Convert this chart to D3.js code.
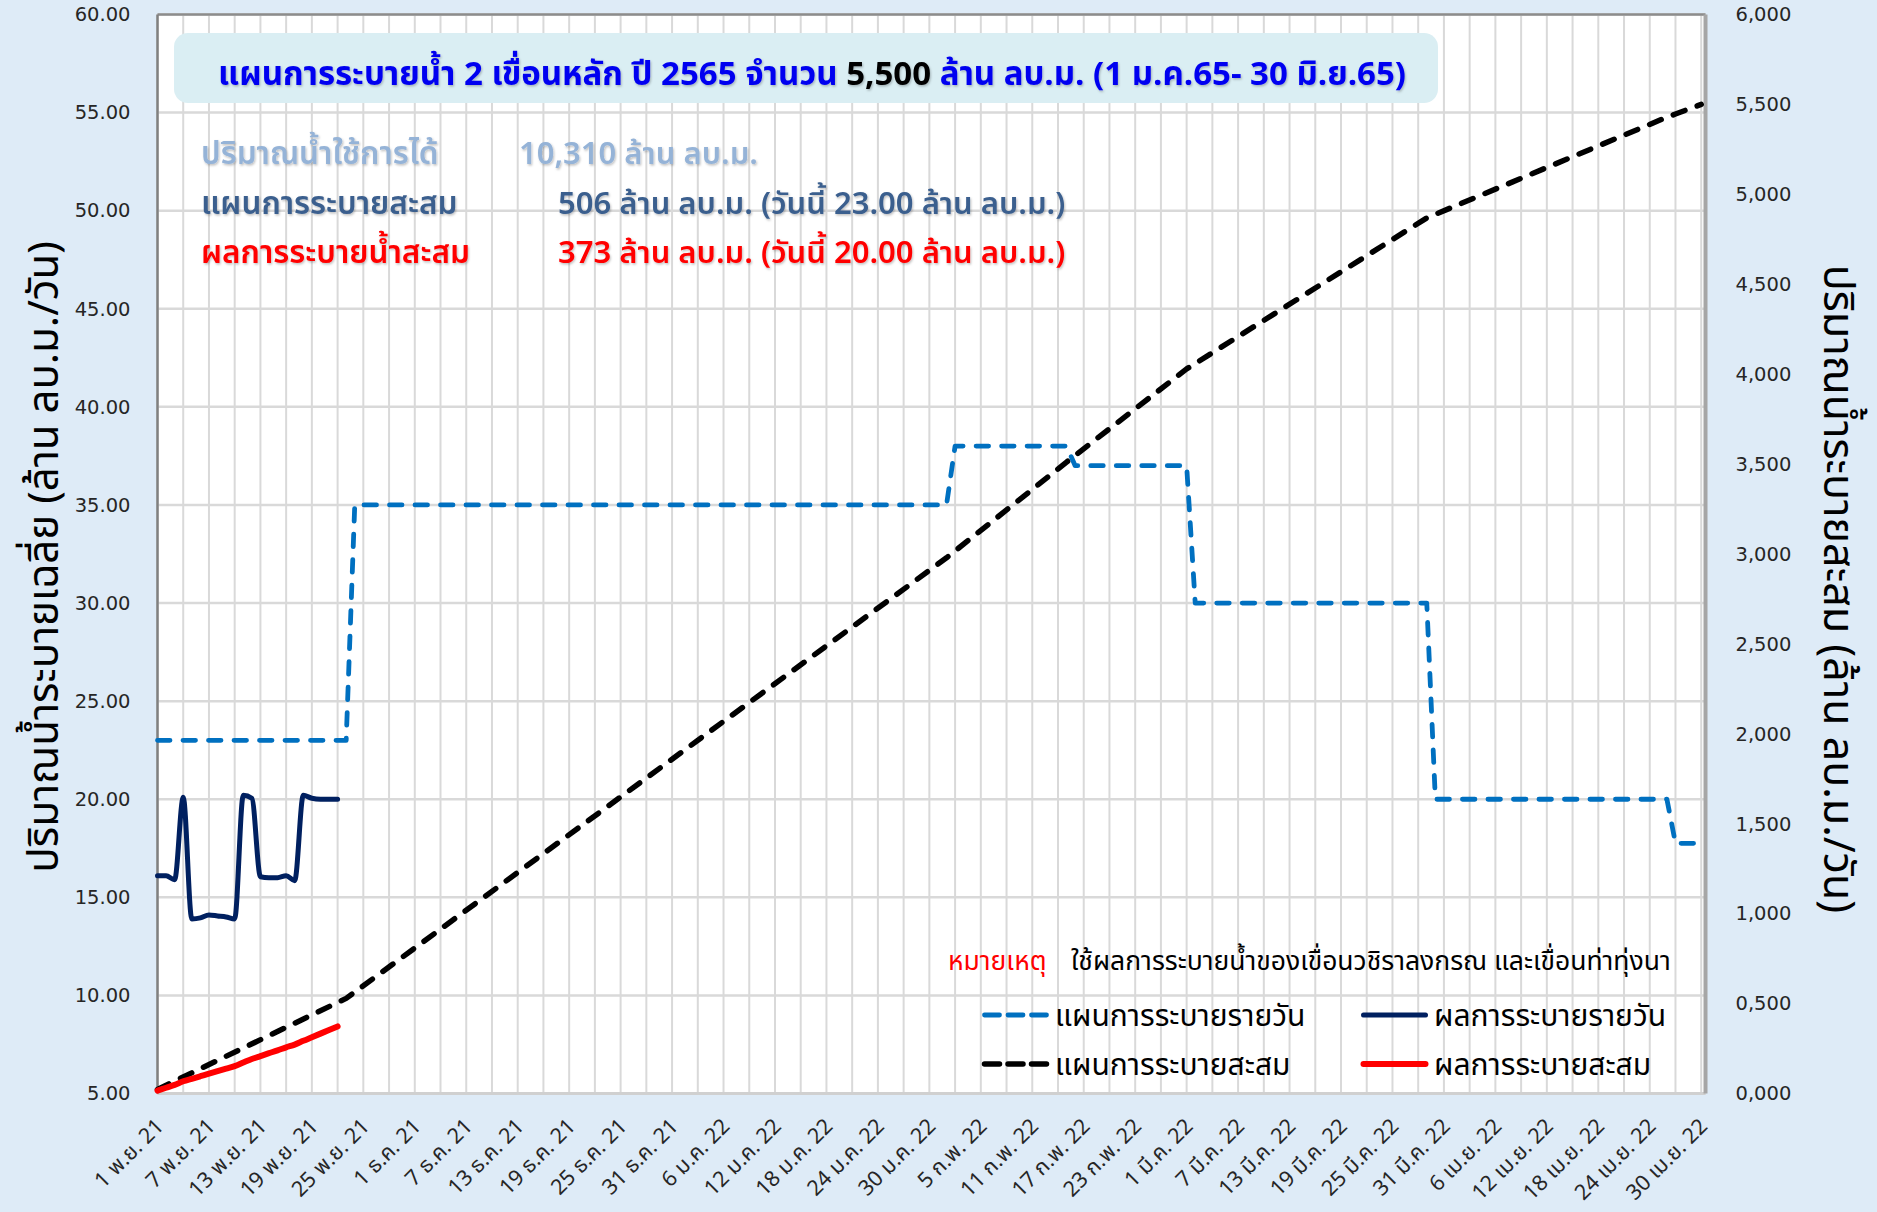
<!DOCTYPE html>
<html>
<head>
<meta charset="utf-8">
<script src="https://cdn.jsdelivr.net/npm/d3@7"></script>
<style>
  html, body { margin: 0; padding: 0; background: #deebf7; }
  svg { display: block; }
  text { font-family: "Tahoma", "Leelawadee UI", "Noto Sans Thai", "Noto Sans Thai UI", "Noto Sans", "DejaVu Sans", sans-serif; }
</style>
</head>
<body>
<svg id="chart" width="1877" height="1212"></svg>
<script>
// ---- data ----
const xTickLabels = [
  "1 พ.ย. 21", "7 พ.ย. 21", "13 พ.ย. 21", "19 พ.ย. 21", "25 พ.ย. 21",
  "1 ธ.ค. 21", "7 ธ.ค. 21", "13 ธ.ค. 21", "19 ธ.ค. 21", "25 ธ.ค. 21", "31 ธ.ค. 21",
  "6 ม.ค. 22", "12 ม.ค. 22", "18 ม.ค. 22", "24 ม.ค. 22", "30 ม.ค. 22",
  "5 ก.พ. 22", "11 ก.พ. 22", "17 ก.พ. 22", "23 ก.พ. 22",
  "1 มี.ค. 22", "7 มี.ค. 22", "13 มี.ค. 22", "19 มี.ค. 22", "25 มี.ค. 22", "31 มี.ค. 22",
  "6 เม.ย. 22", "12 เม.ย. 22", "18 เม.ย. 22", "24 เม.ย. 22", "30 เม.ย. 22"
];
const leftTicks = [5, 10, 15, 20, 25, 30, 35, 40, 45, 50, 55, 60];
const rightTicks = [0, 500, 1000, 1500, 2000, 2500, 3000, 3500, 4000, 4500, 5000, 5500, 6000];
const rightTickLabels = ["0,000", "0,500", "1,000", "1,500", "2,000", "2,500", "3,000",
  "3,500", "4,000", "4,500", "5,000", "5,500", "6,000"];

// plan: vertices of the daily-release plan (step changes) and its running total
const planDates = ["2021-11-01", "2021-11-23", "2021-11-24", "2022-02-01", "2022-02-02",
  "2022-02-15", "2022-02-16", "2022-03-01", "2022-03-02", "2022-03-29", "2022-03-30",
  "2022-04-26", "2022-04-27", "2022-04-30"];
const planDaily = [23, 23, 35, 35, 38, 38, 37, 37, 30, 30, 20, 20, 17.75, 17.75];
const planCumulative = [23, 529, 564, 2979, 3017, 3511, 3548, 4029, 4059, 4869, 4889,
  5429, 5446.75, 5500];

// actual releases, 1–22 Nov 2021
const actualDates = ["2021-11-01", "2021-11-02", "2021-11-03", "2021-11-04", "2021-11-05",
  "2021-11-06", "2021-11-07", "2021-11-08", "2021-11-09", "2021-11-10", "2021-11-11",
  "2021-11-12", "2021-11-13", "2021-11-14", "2021-11-15", "2021-11-16", "2021-11-17",
  "2021-11-18", "2021-11-19", "2021-11-20", "2021-11-21", "2021-11-22"];
const actualDaily = [16.1, 16.1, 15.9, 20.1, 13.9, 13.95, 14.1, 14.05, 14.0, 13.9, 20.2,
  20.05, 16.05, 16.0, 16.0, 16.1, 15.85, 20.2, 20.05, 20.0, 20.0, 20.0];
const actualCumulative = [16, 32, 48, 68, 82, 96, 110, 124, 138, 152, 172, 192, 208, 224,
  240, 257, 272, 293, 313, 333, 353, 373];

// ---- layout ----
const svg = d3.select("#chart");
const W = 1877, H = 1212;
const plot = { left: 157.5, right: 1705.5, top: 14.5, bottom: 1093.5 };
const parse = d3.timeParse("%Y-%m-%d");
const start = parse("2021-11-01");
const end = d3.timeHour.offset(parse("2022-04-30"), 12);

const x = d3.scaleTime().domain([start, end]).range([plot.left, plot.right]);
const yL = d3.scaleLinear().domain([5, 60]).range([plot.bottom, plot.top]);
const yR = d3.scaleLinear().domain([0, 6000]).range([plot.bottom, plot.top]);

const C = {
  bg: "#deebf7", grid: "#d9d9d9", planDaily: "#0070c0", actualDaily: "#002060",
  planCum: "#000000", actualCum: "#ff0000", tick: "#262626"
};

// soft shadow used on the header texts
const defs = svg.append("defs");
const sh = defs.append("filter").attr("id", "soft").attr("x", "-5%").attr("y", "-30%")
  .attr("width", "110%").attr("height", "160%");
sh.append("feDropShadow").attr("dx", 1).attr("dy", 1.5).attr("stdDeviation", 1.2)
  .attr("flood-color", "#000").attr("flood-opacity", 0.25);

svg.append("rect").attr("width", W).attr("height", H).attr("fill", C.bg);
svg.append("rect")
  .attr("x", plot.left).attr("y", plot.top)
  .attr("width", plot.right - plot.left).attr("height", plot.bottom - plot.top)
  .attr("fill", "#ffffff");

// gridlines: every 3 days and every 5 units
const gridDays = d3.timeDay.range(start, parse("2022-05-01"), 3);
svg.append("g").selectAll("line").data(gridDays).join("line")
  .attr("x1", d => x(d)).attr("x2", d => x(d))
  .attr("y1", plot.top).attr("y2", plot.bottom)
  .attr("stroke", C.grid).attr("stroke-width", 2);
svg.append("g").selectAll("line").data(leftTicks).join("line")
  .attr("x1", plot.left).attr("x2", plot.right)
  .attr("y1", d => yL(d)).attr("y2", d => yL(d))
  .attr("stroke", C.grid).attr("stroke-width", 2.5);

// frame
svg.append("line").attr("x1", plot.left).attr("x2", plot.right)
  .attr("y1", plot.top).attr("y2", plot.top).attr("stroke", "#8c8c8c").attr("stroke-width", 2.5);
svg.append("line").attr("x1", plot.left).attr("x2", plot.right)
  .attr("y1", plot.bottom).attr("y2", plot.bottom).attr("stroke", "#d0d0d0").attr("stroke-width", 3);
svg.append("line").attr("x1", plot.right).attr("x2", plot.right)
  .attr("y1", plot.top).attr("y2", plot.bottom).attr("stroke", "#a6a6a6").attr("stroke-width", 4);
svg.append("line").attr("x1", plot.left).attr("x2", plot.left)
  .attr("y1", plot.top).attr("y2", plot.bottom).attr("stroke", "#808080").attr("stroke-width", 2.5);

// ---- axes ----
const leftAxis = d3.axisLeft(yL).tickValues(leftTicks).tickSize(0).tickPadding(27)
  .tickFormat(d3.format(".2f"));
const gL = svg.append("g").attr("transform", `translate(${plot.left},0)`).call(leftAxis);
gL.select(".domain").remove();
gL.selectAll("text").attr("font-size", 19.5).attr("fill", C.tick)
  .style("font-family", "'DejaVu Sans', sans-serif");

const rightAxis = d3.axisRight(yR).tickValues(rightTicks).tickSize(0).tickPadding(30)
  .tickFormat((d, i) => rightTickLabels[i]);
const gR = svg.append("g").attr("transform", `translate(${plot.right},0)`).call(rightAxis);
gR.select(".domain").remove();
gR.selectAll("text").attr("font-size", 19.5).attr("fill", C.tick)
  .style("font-family", "'DejaVu Sans', sans-serif");

const xTickDates = d3.timeDay.range(start, parse("2022-05-01"), 6);
const bottomAxis = d3.axisBottom(x).tickValues(xTickDates).tickSize(0)
  .tickFormat((d, i) => xTickLabels[i]);
const gB = svg.append("g").attr("transform", `translate(0,${plot.bottom})`).call(bottomAxis);
gB.select(".domain").remove();
gB.selectAll("text")
  .attr("font-size", 21.5).attr("fill", C.tick)
  .attr("text-anchor", "end")
  .attr("dy", 0).attr("y", 0)
  .attr("transform", "translate(7,34) rotate(-45)");

// axis titles
svg.append("text")
  .attr("transform", "translate(45,557) rotate(-90)")
  .attr("text-anchor", "middle").attr("dominant-baseline", "central")
  .attr("font-size", 42).attr("fill", "#000")
  .text("ปริมาณน้ำระบายเฉลี่ย (ล้าน ลบ.ม./วัน)");
svg.append("text")
  .attr("transform", "translate(1837,589) rotate(90)")
  .attr("text-anchor", "middle").attr("dominant-baseline", "central")
  .attr("font-size", 43).attr("fill", "#000")
  .text("ปริมาณน้ำระบายสะสม (ล้าน ลบ.ม./วัน)");

// ---- series ----
const planPts = planDates.map((d, i) => ({ date: parse(d), daily: planDaily[i], cum: planCumulative[i] }));
const actPts = actualDates.map((d, i) => ({ date: parse(d), daily: actualDaily[i], cum: actualCumulative[i] }));

svg.append("path").datum(planPts)
  .attr("d", d3.line().x(d => x(d.date)).y(d => yR(d.cum)))
  .attr("fill", "none").attr("stroke", C.planCum).attr("stroke-width", 5.5)
  .attr("stroke-dasharray", "12.5 13").attr("stroke-linecap", "round").attr("stroke-linejoin", "round");

svg.append("path").datum(planPts)
  .attr("d", d3.line().x(d => x(d.date)).y(d => yL(d.daily)))
  .attr("fill", "none").attr("stroke", C.planDaily).attr("stroke-width", 4.8)
  .attr("stroke-dasharray", "12.5 13").attr("stroke-linecap", "round").attr("stroke-linejoin", "round");

svg.append("path").datum(actPts)
  .attr("d", d3.line().curve(d3.curveMonotoneX).x(d => x(d.date)).y(d => yR(d.cum)))
  .attr("fill", "none").attr("stroke", C.actualCum).attr("stroke-width", 6)
  .attr("stroke-linecap", "round").attr("stroke-linejoin", "round");

svg.append("path").datum(actPts)
  .attr("d", d3.line().curve(d3.curveMonotoneX).x(d => x(d.date)).y(d => yL(d.daily)))
  .attr("fill", "none").attr("stroke", C.actualDaily).attr("stroke-width", 5)
  .attr("stroke-linecap", "round").attr("stroke-linejoin", "round");

// ---- title box ----
svg.append("rect").attr("x", 174).attr("y", 33).attr("width", 1264).attr("height", 70)
  .attr("rx", 14).attr("fill", "#daeef3");
const title = svg.append("text").attr("x", 812).attr("y", 85)
  .attr("text-anchor", "middle").attr("font-size", 33).attr("font-weight", "bold")
  .attr("fill", "#0000f0").attr("filter", "url(#soft)");
title.append("tspan").text("แผนการระบายน้ำ 2 เขื่อนหลัก ปี 2565 จำนวน ");
title.append("tspan").attr("fill", "#000").text("5,500");
title.append("tspan").text(" ล้าน ลบ.ม. (1 ม.ค.65- 30 มิ.ย.65)");

// ---- summary lines ----
const info = [
  { label: "ปริมาณน้ำใช้การได้", value: "10,310 ล้าน ลบ.ม.", vx: 519, y: 164, color: "#95b3d7" },
  { label: "แผนการระบายสะสม", value: "506 ล้าน ลบ.ม. (วันนี้ 23.00 ล้าน ลบ.ม.)", vx: 558, y: 214, color: "#3b5f8e" },
  { label: "ผลการระบายน้ำสะสม", value: "373 ล้าน ลบ.ม. (วันนี้ 20.00 ล้าน ลบ.ม.)", vx: 558, y: 263, color: "#ff0000" }
];
info.forEach(r => {
  svg.append("text").attr("x", 201).attr("y", r.y).attr("font-size", 31.5).attr("font-weight", 600)
    .attr("fill", r.color).attr("filter", "url(#soft)").text(r.label);
  svg.append("text").attr("x", r.vx).attr("y", r.y).attr("font-size", 31).attr("font-weight", 600)
    .attr("fill", r.color).attr("filter", "url(#soft)").text(r.value);
});

// ---- note ----
svg.append("text").attr("x", 948).attr("y", 970).attr("font-size", 26.5).attr("fill", "#ff0000")
  .text("หมายเหตุ");
svg.append("text").attr("x", 1071).attr("y", 970).attr("font-size", 26.5).attr("fill", "#000")
  .text("ใช้ผลการระบายน้ำของเขื่อนวชิราลงกรณ และเขื่อนท่าทุ่งนา");

// ---- legend ----
const legend = [
  { name: "แผนการระบายรายวัน", color: C.planDaily, dash: true, x: 982, y: 1015, w: 4.8 },
  { name: "ผลการระบายรายวัน", color: C.actualDaily, dash: false, x: 1361, y: 1015, w: 5 },
  { name: "แผนการระบายสะสม", color: C.planCum, dash: true, x: 982, y: 1064, w: 5.5 },
  { name: "ผลการระบายสะสม", color: C.actualCum, dash: false, x: 1361, y: 1064, w: 6 }
];
const lg = svg.append("g").selectAll("g").data(legend).join("g");
lg.append("line")
  .attr("x1", d => d.x + 2.5).attr("x2", d => d.x + 64.5)
  .attr("y1", d => d.y).attr("y2", d => d.y)
  .attr("stroke", d => d.color).attr("stroke-width", d => d.w)
  .attr("stroke-linecap", "round")
  .attr("stroke-dasharray", d => d.dash ? "15 8.5" : null);
lg.append("text")
  .attr("x", d => d.x + 73).attr("y", d => d.y + 11)
  .attr("font-size", 30).attr("fill", "#000")
  .text(d => d.name);
</script>
</body>
</html>
